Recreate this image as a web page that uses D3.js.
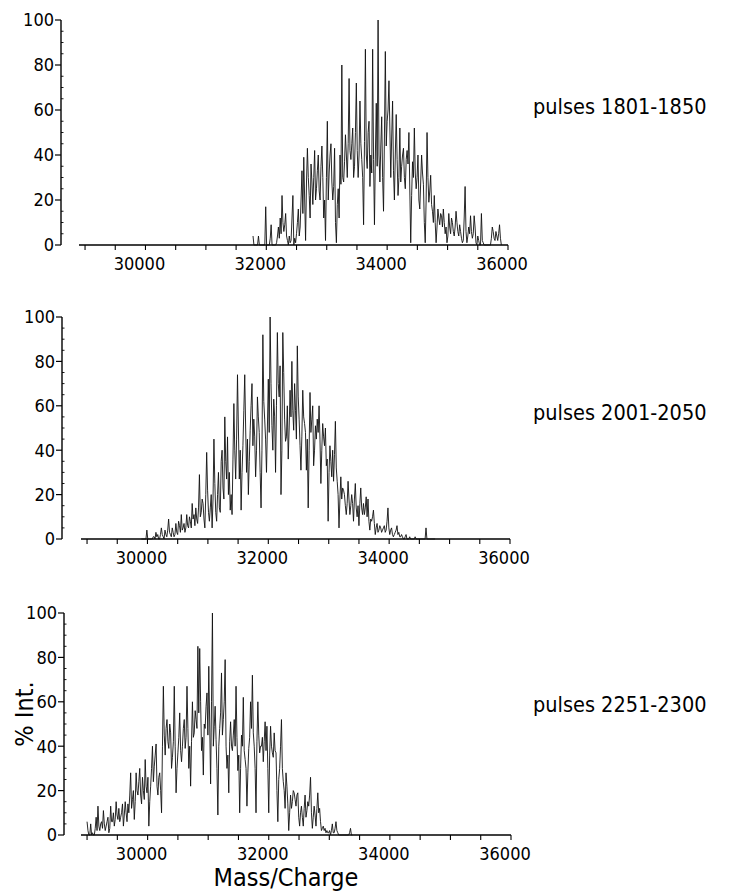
<!DOCTYPE html>
<html>
<head>
<meta charset="utf-8">
<script src="https://cdn.jsdelivr.net/npm/d3@7/dist/d3.min.js"></script>
<style>
  html, body { margin: 0; padding: 0; background: #fff; }
  svg { display: block; }
  text { font-family: "DejaVu Sans Condensed", "DejaVu Sans", sans-serif; fill: #000; }
</style>
</head>
<body>
<svg id="chart" width="730" height="892"></svg>
<script>
// Mass spectra of three pulse windows, intensity normalised to the base peak (%).
const panelLabels = ["pulses 1801-1850", "pulses 2001-2050", "pulses 2251-2300"];
const massTickLabels = [30000, 32000, 34000, 36000];
const intensityTicks = [0, 20, 40, 60, 80, 100];

// Each trace is sampled on a regular mass grid: first channel and channel width (Da).
const massStart = [31780, 29900, 29000];
const massStep = 15;

const intensity1801 = [
  4,0,0,0,0,0,4,0,0,0,0,0,0,0,17,0,0,0,0,3,
  9,0,0,0,0,0,1,4,8,3,12,5,22,10,6,9,14,4,2,0,
  4,1,2,12,22,0,3,1,5,10,16,4,8,20,33,14,39,20,2,28,
  43,30,22,12,36,28,18,30,42,20,25,33,40,24,20,35,44,30,12,20,
  2,30,55,20,32,40,45,28,20,26,43,10,1,18,25,12,40,27,80,30,
  28,37,49,40,30,45,74,42,38,45,52,30,35,50,72,42,30,40,64,45,
  38,30,9,46,87,40,34,50,55,26,40,32,87,38,9,40,63,35,100,40,
  28,44,57,30,15,48,86,44,55,60,73,52,30,48,64,33,20,40,58,38,
  22,30,52,28,35,40,43,30,25,38,42,36,50,24,1,22,37,30,52,32,
  25,30,40,20,16,28,40,32,27,10,1,20,50,30,19,24,31,18,15,10,
  22,10,1,8,16,12,9,14,13,8,16,10,5,8,1,4,14,8,5,12,
  10,6,4,8,15,10,6,4,9,6,3,1,2,12,26,6,1,4,8,5,
  13,6,3,5,13,8,1,0,4,2,0,0,14,2,1,0,0,0,0,0,
  0,0,0,3,8,6,3,2,6,4,2,5,9,3,0
];

const intensity2001 = [
  0,0,0,0,0,0,4,0,0,0,0,0,0,1,1,0,3,1,2,0,
  0,2,5,2,1,0,4,2,1,4,9,3,2,1,5,3,1,2,7,3,
  2,8,6,3,11,4,5,7,3,5,11,6,5,10,8,5,16,9,11,6,
  14,9,7,14,29,10,12,18,16,9,5,20,39,22,12,8,14,20,5,18,
  45,25,12,8,20,30,14,12,35,40,23,18,55,35,27,46,20,30,13,20,
  11,36,61,40,27,45,74,50,27,40,13,30,42,58,74,50,30,45,20,35,
  49,60,70,42,54,46,28,40,64,55,48,30,14,40,92,62,54,45,30,50,
  72,48,100,70,51,40,63,55,30,60,93,70,64,78,20,40,93,75,54,44,
  46,60,36,50,67,55,80,58,49,70,58,45,87,64,54,42,31,46,67,55,
  52,48,31,45,14,40,66,48,54,60,33,40,51,45,54,48,60,45,25,40,
  52,46,42,50,33,36,8,30,42,35,28,40,26,38,53,32,26,20,5,18,
  28,18,23,22,20,15,11,16,26,18,11,15,20,16,8,18,25,14,10,15,
  6,16,23,14,11,16,11,14,19,10,18,8,4,9,8,10,13,7,2,5,
  7,3,4,6,5,3,4,5,6,3,4,8,14,5,2,4,5,2,1,2,
  3,4,6,2,3,1,1,2,1,0,0,1,2,0,0,0,1,0,0,0,
  0,0,1,0,0,0,0,0,0,0,0,0,0,0,5,0,0,0,0,0,
  0,0,0,0,0
];

const intensity2251 = [
  6,2,0,0,5,0,1,0,0,3,8,2,13,4,2,5,6,3,11,5,
  2,4,6,8,1,3,13,6,6,10,4,7,15,9,7,12,6,8,10,14,
  4,9,15,10,6,14,10,18,28,12,16,20,7,15,28,20,18,24,30,18,
  14,26,20,16,34,22,19,26,4,15,22,30,40,24,31,36,41,22,18,26,
  28,20,10,40,67,45,36,48,52,42,39,50,46,30,35,42,67,40,19,30,
  37,44,55,38,33,40,48,52,39,44,67,48,30,40,22,42,60,44,46,56,
  52,48,85,55,84,60,38,44,27,50,48,58,64,45,76,50,23,60,100,40,
  49,58,43,30,9,40,48,55,73,45,52,60,79,40,30,36,19,42,51,40,
  38,45,52,40,67,44,29,36,10,30,45,40,62,38,34,30,13,28,39,44,
  60,48,72,46,40,30,10,42,60,45,37,40,40,44,33,42,51,38,49,30,
  10,36,49,40,37,35,46,38,37,20,6,25,30,40,52,30,24,20,12,28,
  22,14,2,10,18,12,15,20,19,16,13,18,19,8,4,10,13,8,4,12,
  18,8,11,15,13,18,26,10,3,8,13,9,4,12,19,10,12,6,2,3,
  4,2,3,1,2,1,1,2,0,2,5,1,1,3,6,2,1,0,0,0,
  0,0,0,0,0,0,0,0,0,1,3,0,0
];

const seriesValues = [intensity1801, intensity2001, intensity2251];

// Panel geometry (pixels)
const layout = [
  { y0: 245, y100: 20,  axisX: 61, xLeft: 79, xRight: 508, labelY: 114 },
  { y0: 539, y100: 317, axisX: 62, xLeft: 81, xRight: 510, labelY: 420 },
  { y0: 835, y100: 613, axisX: 64, xLeft: 81, xRight: 511, labelY: 712 }
];
const massDomain = [28900, 36000];

const svg = d3.select("#chart");
svg.append("rect").attr("width", 730).attr("height", 892).attr("fill", "#fff");

layout.forEach((L, p) => {
  const g = svg.append("g");
  const x = d3.scaleLinear().domain(massDomain).range([L.xLeft, L.xRight]);
  const y = d3.scaleLinear().domain([0, 100]).range([L.y0, L.y100]);

  // intensity axis
  g.append("line")
    .attr("x1", L.axisX).attr("x2", L.axisX)
    .attr("y1", y(0)).attr("y2", y(100))
    .attr("stroke", "#000").attr("stroke-width", 1.4);
  g.selectAll(".ymaj").data(intensityTicks).join("line")
    .attr("x1", L.axisX - 6).attr("x2", L.axisX)
    .attr("y1", d => y(d)).attr("y2", d => y(d))
    .attr("stroke", "#000").attr("stroke-width", 1.2);
  g.selectAll(".ymin").data(d3.range(5, 100, 5).filter(v => v % 20 !== 0)).join("line")
    .attr("x1", L.axisX).attr("x2", L.axisX + 2.5)
    .attr("y1", d => y(d)).attr("y2", d => y(d))
    .attr("stroke", "#000").attr("stroke-width", 0.9);
  g.selectAll(".ylab").data(intensityTicks).join("text")
    .attr("x", L.axisX - 7).attr("y", d => y(d)).attr("dy", "0.36em")
    .attr("text-anchor", "end").attr("font-size", 18)
    .text(d => d);

  // mass axis
  g.append("line")
    .attr("x1", L.xLeft).attr("x2", L.xRight)
    .attr("y1", y(0)).attr("y2", y(0))
    .attr("stroke", "#000").attr("stroke-width", 1.6);
  g.selectAll(".xt").data(d3.range(29000, 36001, 500)).join("line")
    .attr("x1", d => x(d)).attr("x2", d => x(d))
    .attr("y1", y(0)).attr("y2", y(0) + 5)
    .attr("stroke", "#000").attr("stroke-width", 1.1);
  g.selectAll(".xlab").data(massTickLabels).join("text")
    .attr("x", d => x(d) - 6).attr("y", y(0) + 25)
    .attr("text-anchor", "middle").attr("font-size", 18)
    .text(d => d);

  // spectrum trace
  const vals = seriesValues[p];
  const pts = vals.map((v, i) => [massStart[p] + i * massStep, v]);
  const line = d3.line().x(d => x(d[0])).y(d => y(d[1]));
  g.append("path")
    .attr("d", line(pts))
    .attr("fill", "none")
    .attr("stroke", "#111")
    .attr("stroke-width", 0.9)
    .attr("stroke-linejoin", "miter");

  // pulse window label
  g.append("text")
    .attr("x", 533).attr("y", L.labelY)
    .attr("font-size", 21.5)
    .text(panelLabels[p]);
});

// axis titles
svg.append("text")
  .attr("transform", "translate(33,714) rotate(-90)")
  .attr("text-anchor", "middle").attr("font-size", 25)
  .text("% Int.");
svg.append("text")
  .attr("x", 286).attr("y", 886)
  .attr("text-anchor", "middle").attr("font-size", 25)
  .text("Mass/Charge");
</script>
</body>
</html>
